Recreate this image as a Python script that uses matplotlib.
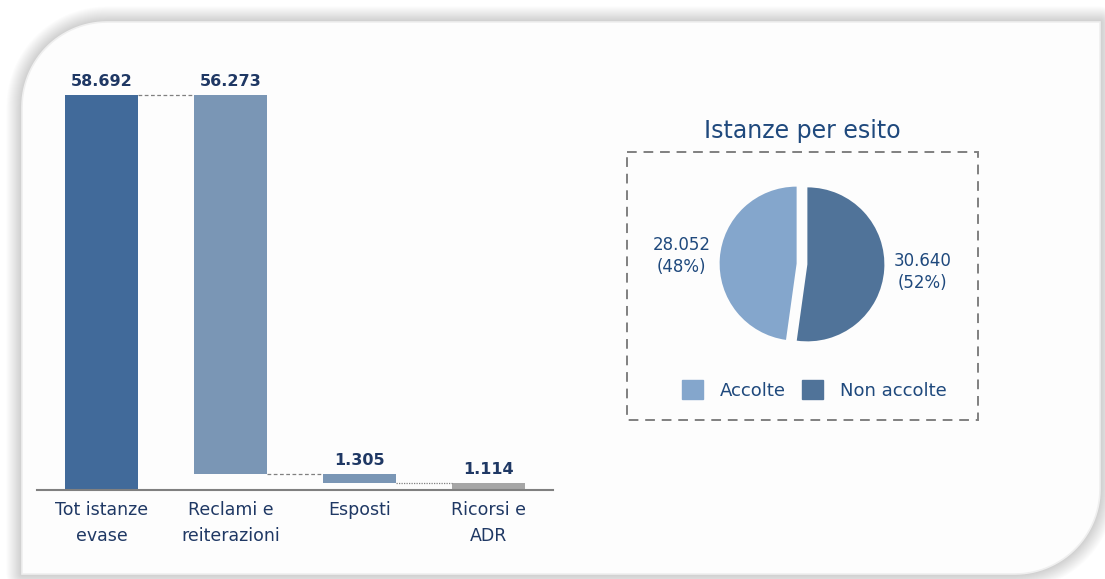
import numpy as np
import matplotlib
matplotlib.use("Agg")
import matplotlib.pyplot as plt
from matplotlib.patches import Polygon, Rectangle, Patch

# --- data ---
categories = ["Tot istanze\nevase", "Reclami e\nreiterazioni", "Esposti", "Ricorsi e\nADR"]
values = [58692, 56273, 1305, 1114]
pie_labels = ["Accolte", "Non accolte"]
pie_values = [28052, 30640]
pie_title = "Istanze per esito"

bar_colors = ["#416A9A", "#7A96B5", "#7A96B5", "#A6A6A6"]
pie_colors = ["#84A6CC", "#507399"]
txt_dark = "#1F3864"
txt_blue = "#1F497D"

W, H = 1105, 579
plt.rcParams["font.family"] = "DejaVu Sans"


def fmt(v):
    return f"{v:,}".replace(",", ".")


fig = plt.figure(figsize=(W / 100, H / 100), dpi=100)
fig.patch.set_facecolor("white")

# --- background panel with soft shadow ---
bg = fig.add_axes([0, 0, 1, 1], zorder=0)
bg.set_xlim(0, W)
bg.set_ylim(H, 0)
bg.axis("off")


def panel_path(L, T, R, B, r, n=30):
    pts = [(L, B), (R - r, B)]
    a = np.linspace(np.pi / 2, 0, n)
    pts += list(zip(R - r + r * np.cos(a), B - r + r * np.sin(a)))
    pts += [(R, T), (L + r, T)]
    a = np.linspace(-np.pi / 2, -np.pi, n)
    pts += list(zip(L + r + r * np.cos(a), T + r + r * np.sin(a)))
    return np.array(pts)


pp = panel_path(22, 22, 1100, 574, 85)
for k in range(16, 0, -1):
    bg.add_patch(Polygon(pp, closed=True, fill=False, edgecolor="black",
                         lw=k * 1.4, alpha=0.013, joinstyle="round"))
bg.add_patch(Polygon(pp, closed=True, facecolor="#FDFDFD", edgecolor="#EFEFEF", lw=1.2))

# dashed box around pie
bg.add_patch(Rectangle((627, 152), 351, 268, fill=False, edgecolor="#808080",
                       lw=1.4, ls=(0, (5, 3.5))))
bg.text(802, 131, pie_title, ha="center", va="center", fontsize=17, color=txt_blue)

# --- waterfall ---
ax = fig.add_axes([37 / W, 89 / H, 516 / W, 430 / H], zorder=1)
ax.patch.set_visible(False)
x = np.arange(len(values))
bottoms = [0]
level = values[0]
for v in values[1:]:
    level -= v
    bottoms.append(level)
tops = [b + v for b, v in zip(bottoms, values)]

ax.bar(x, values, bottom=bottoms, width=0.56, color=bar_colors)
for i in range(len(values)):
    ax.annotate(fmt(values[i]), (x[i], tops[i]), xytext=(0, 4), textcoords="offset points",
                ha="center", va="bottom", fontsize=11.5, fontweight="bold", color=txt_dark)
for i in range(len(values) - 1):
    ls = (0, (3, 2)) if i < len(values) - 2 else (0, (1, 1))
    ax.plot([x[i] + 0.28, x[i + 1] - 0.28], [tops[i + 1]] * 2, color="#808080", lw=0.9, ls=ls)

ax.set_xlim(-0.5, len(values) - 0.5)
ax.set_ylim(0, values[0] * 430 / 395)
ax.set_xticks(x)
ax.set_xticklabels(categories, fontsize=12.5, color=txt_dark, linespacing=1.55)
ax.tick_params(axis="x", length=0, pad=8)
ax.set_yticks([])
for s in ["top", "right", "left"]:
    ax.spines[s].set_visible(False)
ax.spines["bottom"].set_color("#808080")
ax.spines["bottom"].set_linewidth(1.5)

# --- pie ---
side = 262
axp = fig.add_axes([(802 - side / 2) / W, (H - 264 - side / 2) / H, side / W, side / H], zorder=1)
lim = side / 2 / 77
wedges, _ = axp.pie(pie_values, colors=pie_colors, startangle=90, counterclock=True,
                    explode=[0.07, 0.07], wedgeprops=dict(linewidth=0))
axp.set_xlim(-lim, lim)
axp.set_ylim(-lim, lim)
axp.set_aspect("equal")
total = sum(pie_values)
for w, v in zip(wedges, pie_values):
    mid = np.deg2rad((w.theta1 + w.theta2) / 2)
    cx, cy = w.center
    axp.text(cx + 1.5 * np.cos(mid), cy + 1.5 * np.sin(mid),
             f"{fmt(v)}\n({round(v / total * 100)}%)", ha="center", va="center",
             fontsize=12, color=txt_blue, linespacing=1.3)

fig.legend(handles=[Patch(color=c) for c in pie_colors], labels=pie_labels, ncol=2,
           loc="center", bbox_to_anchor=(814 / W, 1 - 390 / H), frameon=False,
           fontsize=13, labelcolor=txt_blue, handlelength=1.2, handleheight=1.2,
           columnspacing=0.9, handletextpad=0.9)

fig.savefig("out.png", dpi=100)
